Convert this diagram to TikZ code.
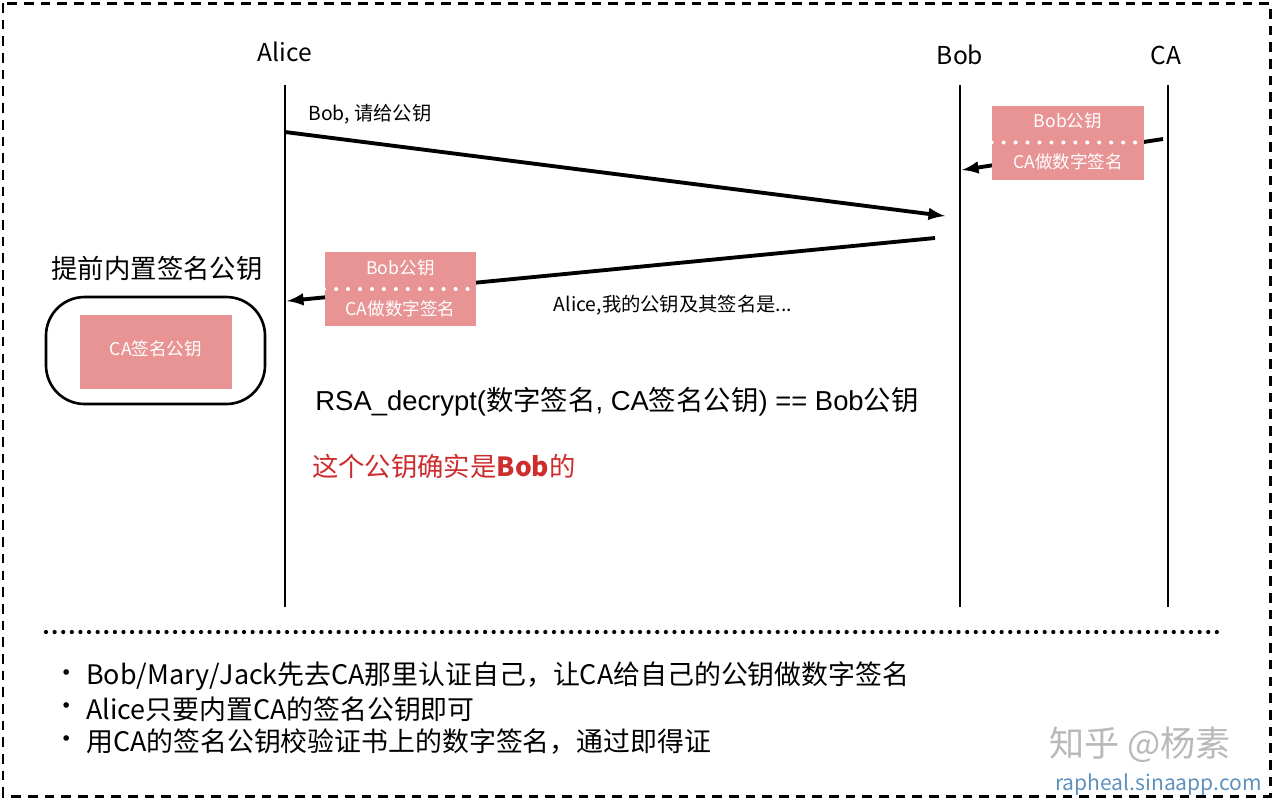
\documentclass[tikz,border=0pt]{standalone}
\usepackage{fontspec}
\setmainfont{Noto Sans CJK SC}
\newfontfamily\rsafont{Liberation Sans}
\newfontfamily\cjkfont{Noto Sans CJK SC}
\definecolor{keypink}{RGB}{232,148,148}
\definecolor{okred}{RGB}{205,45,45}
\definecolor{markgrey}{RGB}{185,185,185}
\definecolor{webblue}{RGB}{95,145,190}
\tikzset{
  lifeline/.style={line width=1.4pt},
  msg/.style={>=latex, ->, line width=2.2pt},
  keybox/.style={fill=keypink, minimum width=3.04cm, minimum height=1.48cm, inner sep=0pt},
  keytext/.style={text=white, font=\fontsize{10}{12}\selectfont},
  cut/.style={white, line width=2.3pt, line cap=round, dash pattern=on 0pt off 6.8pt},
  note/.style={anchor=west, font=\fontsize{15.3}{18}\selectfont},
}
\begin{document}
\begin{tikzpicture}[x=0.02cm, y=-0.02cm]
    \useasboundingbox (0,0) rectangle (1274,799);
    \draw[line width=1.7pt, dash pattern=on 5.5pt off 4pt] (3,3) rectangle (1270,796);
    % actors
    \node(alice) at (285,52){\fontsize{14}{16}\selectfont Alice};
    \node(bob) at (960,55){\fontsize{14}{16}\selectfont Bob};
    \node(ca) at (1166,55){\fontsize{14}{16}\selectfont CA};
    \coordinate(aTop) at (285,85); \coordinate(aBot) at (285,607);
    \coordinate(bTop) at (960,85); \coordinate(bBot) at (960,607);
    \coordinate(cTop) at (1168,85); \coordinate(cBot) at (1168,607);
    \draw[lifeline] (aTop) -- (aBot);
    \draw[lifeline] (bTop) -- (bBot);
    \draw[lifeline] (cTop) -- (cBot);
    % messages
    \coordinate(m1s) at (285,132); \coordinate(m1e) at (945,216);
    \coordinate(m2s) at (935,238); \coordinate(m2e) at (287,301);
    \coordinate(m3s) at (1163,139); \coordinate(m3e) at (962,170);
    \draw[msg] (m1s) -- (m1e);
    \draw[msg] (m2s) -- (m2e);
    \draw[msg] (m3s) -- (m3e);
    \node(ask) at (370,114){\fontsize{11}{13}\selectfont Bob, 请给公钥};
    \node(reply) at (673,305){\fontsize{11}{13}\selectfont Alice,我的公钥及其签名是...};
    % certificates
    \node[keybox](cert1) at (1068,142.5){};
    \draw[cut] (cert1.west) -- (cert1.east);
    \node[keytext](c1a) at (1068,121){Bob公钥};
    \node[keytext](c1b) at (1068,162){CA做数字签名};
    \node[keybox](cert2) at (400.5,289){};
    \draw[cut] (cert2.west) -- (cert2.east);
    \node[keytext](c2a) at (400.5,268){Bob公钥};
    \node[keytext](c2b) at (400.5,309){CA做数字签名};
    % alice's store
    \node(store) at (157,268){\fontsize{15}{18}\selectfont 提前内置签名公钥};
    \draw[line width=1.5pt, rounded corners=22pt] (46,297) rectangle (265,404);
    \node[keybox](cakey) at (156,352){};
    \node[keytext](cak) at (156,349){CA签名公钥};
    % check
    \node(check) at (617,402){\rsafont\fontsize{15.6}{18}\selectfont RSA\_decrypt({\cjkfont 数字签名}, CA{\cjkfont 签名公钥}) == Bob{\cjkfont 公钥}};
    \node[text=okred, anchor=west](ok) at (306,466){\fontsize{15}{18}\selectfont 这个公钥确实是\textbf{Bob}的};
    % notes
    \draw[line width=2.4pt, line cap=round, dash pattern=on 0pt off 4.9pt] (46,632) -- (1224,632);
    \foreach \y/\txt [count=\i] in {676/Bob\slash Mary\slash Jack先去CA那里认证自己，让CA给自己的公钥做数字签名,
                                    709/Alice只要内置CA的签名公钥即可,
                                    742/用CA的签名公钥校验证书上的数字签名，通过即得证}{
      \node(dot\i) at (67,\y){\fontsize{15}{18}\selectfont ·};
      \node[note](n\i) at (80,\y){\txt};
    }
    \node[text=markgrey](zh) at (1140,745){\fontsize{20}{24}\selectfont 知乎 @杨素};
    \node[text=webblue, anchor=east](site) at (1268,785){\fontsize{12}{14}\selectfont rapheal.sinaapp.com};
\end{tikzpicture}
\end{document}
